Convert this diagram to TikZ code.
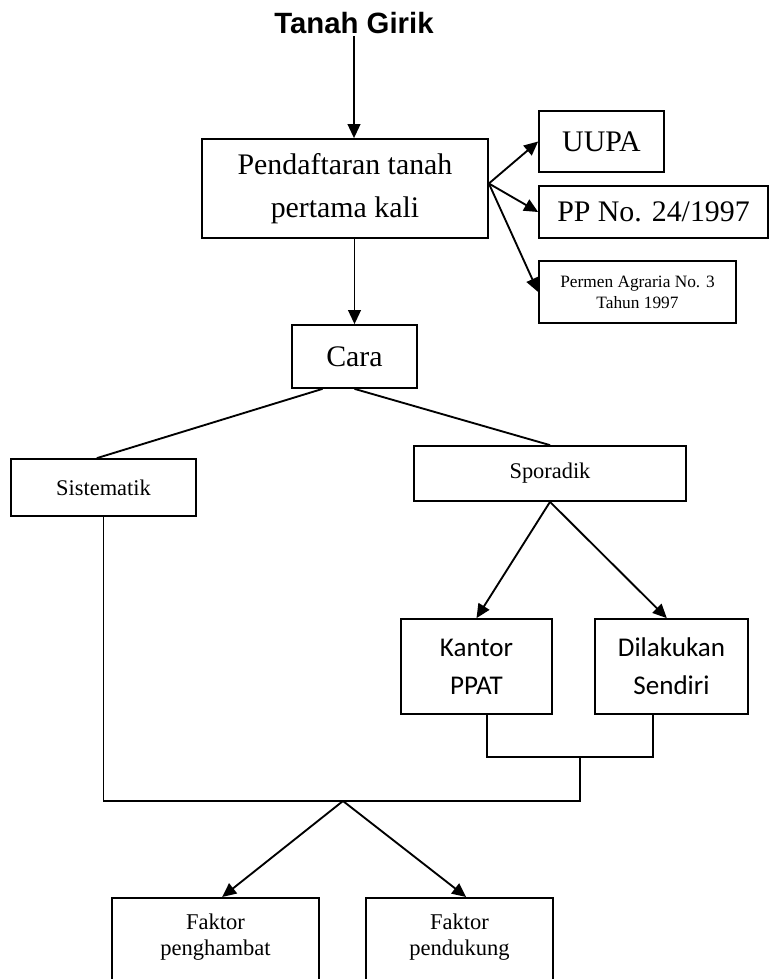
\documentclass[tikz,border=0pt]{standalone}
\usepackage{fontspec}
\setmainfont{Liberation Serif}
\newfontfamily\arialfont{Liberation Sans}
\newfontfamily\calibrifont{Carlito}
\usetikzlibrary{arrows.meta}
\tikzset{
  kotak/.style={draw, line width=1.3pt, inner sep=2pt, align=center},
  garis/.style={line width=1.4pt},
}

\begin{document}
\begin{tikzpicture}[x=0.75pt, y=-0.75pt, >={Triangle[length=10.5pt,width=9.5pt]}]
    \useasboundingbox (0,0) rectangle (770,979);

    % Judul
    \node[anchor=base, inner sep=2pt, font=\arialfont\bfseries\fontsize{22}{26}\selectfont] (girik) at (354,33) {Tanah Girik};

    % Kotak atas dan dasar hukum
    \node[kotak, minimum width=214.5pt, minimum height=74.25pt, font=\fontsize{22.4}{32}\selectfont] (pendaftaran) at (345,188.5) {Pendaftaran tanah\\pertama kali};
    \node[kotak, minimum width=93.75pt, minimum height=45.75pt, font=\fontsize{22.4}{27}\selectfont] (uupa) at (601.5,141.5) {UUPA};
    \node[kotak, minimum width=171.75pt, minimum height=39pt, font=\fontsize{22.4}{27}\selectfont] (pp) at (653.5,212) {PP No. 24/1997};
    \node[kotak, minimum width=147.75pt, minimum height=46.5pt, font=\fontsize{13}{15.75}\selectfont] (permen) at (637.5,292) {Permen Agraria No. 3\\Tahun 1997};

    % Cara pendaftaran
    \node[kotak, minimum width=93.75pt, minimum height=47.25pt, font=\fontsize{22.4}{27}\selectfont] (cara) at (354.5,356.5) {Cara};
    \node[kotak, minimum width=138.75pt, minimum height=42.75pt, font=\fontsize{16.8}{20}\selectfont] (sistematik) at (103.5,487.5) {Sistematik};
    \node[kotak, minimum width=204pt, minimum height=41.25pt, font=\fontsize{16.8}{20}\selectfont] (sporadik) at (550,473.5) {Sporadik};
    \node[kotak, minimum width=113.25pt, minimum height=71.25pt, font=\calibrifont\fontsize{20.3}{28.5}\selectfont] (kantor) at (476.5,666.5) {Kantor\\PPAT};
    \node[kotak, minimum width=114.75pt, minimum height=71.25pt, font=\calibrifont\fontsize{20.3}{28.5}\selectfont] (dilakukan) at (671.5,666.5) {Dilakukan\\Sendiri};

    % Faktor
    \node[kotak, anchor=north, minimum width=155.25pt, inner ysep=12pt, text depth=60pt, font=\fontsize{16.9}{19.5}\selectfont] (penghambat) at (215.5,897) {Faktor\\penghambat};
    \node[kotak, anchor=north, minimum width=140.25pt, inner ysep=12pt, text depth=60pt, font=\fontsize{16.9}{19.5}\selectfont] (pendukung) at (459.5,897) {Faktor\\pendukung};

    \coordinate (gabung) at (580,757);
    \coordinate (bawah) at (580,801);
    \coordinate (puncak) at (343,801);

    % Garis
    \draw[->, garis] (girik) -- (girik |- pendaftaran.north);
    \draw[->, garis] (cara.north |- pendaftaran.south) -- (cara.north);
    \draw[->, garis] ([yshift=3.75pt]pendaftaran.east) -- (uupa.west);
    \draw[->, garis] ([yshift=3.75pt]pendaftaran.east) -- (pp.west);
    \draw[->, garis] ([yshift=3.75pt]pendaftaran.east) -- (permen.west);
    \draw[garis] ([xshift=-24pt]cara.south) -- ([xshift=-5pt]sistematik.north);
    \draw[garis] (cara.south) -- (sporadik.north);
    \draw[->, garis] (sporadik.south) -- (kantor.north);
    \draw[->, garis] (sporadik.south) -- ([xshift=-3.5pt]dilakukan.north);
    \draw[garis] ([xshift=7.9pt]kantor.south) |- (gabung) -| ([xshift=-13.9pt]dilakukan.south);
    \draw[garis] (gabung) -- (bawah) -| (sistematik.south);
    \draw[->, garis] (puncak) -- ([xshift=5pt]penghambat.north);
    \draw[->, garis] (puncak) -- ([xshift=5pt]pendukung.north);
\end{tikzpicture}
\end{document}
